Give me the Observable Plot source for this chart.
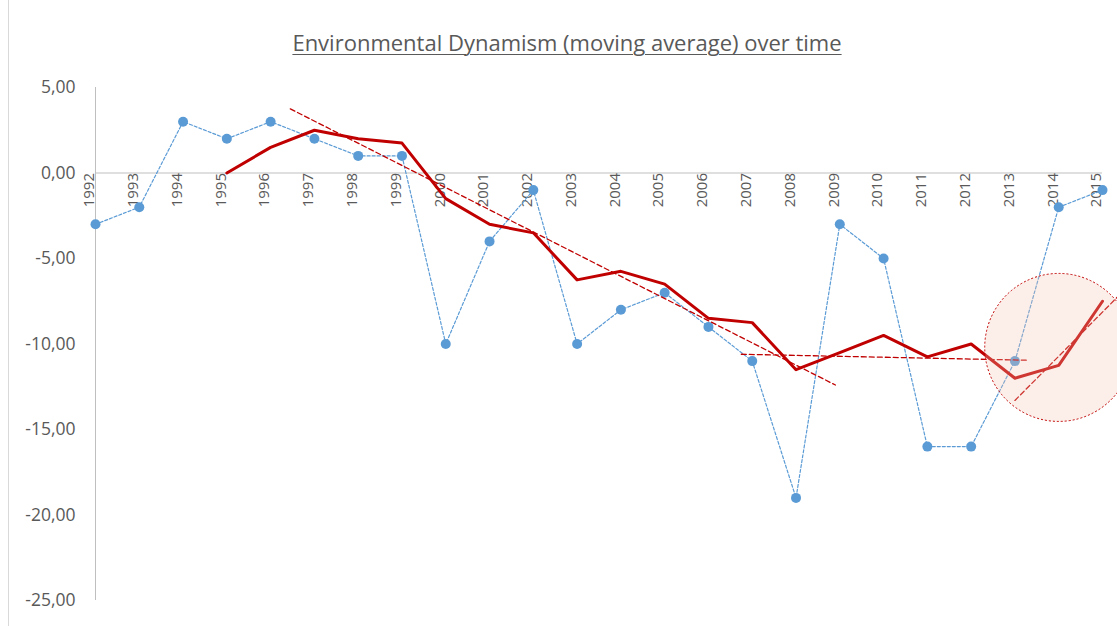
<!DOCTYPE html>
<html>
<head>
<meta charset="utf-8">
<script src="https://cdn.jsdelivr.net/npm/d3@7"></script>
<script src="https://cdn.jsdelivr.net/npm/@observablehq/plot@0.6"></script>
<style>
  html, body { margin: 0; padding: 0; background: #fff; }
  #wrap { position: relative; width: 1117px; height: 626px; overflow: hidden; font-family: "Open Sans", sans-serif; }
  #title { position: absolute; left: 0; width: 1134px; top: 27px; text-align: center; font-size: 22px; line-height: 30px; color: #595959; text-decoration: underline; text-underline-offset: 3px; text-decoration-thickness: 1px; }
  #border { position: absolute; left: 8px; top: 0; width: 1px; height: 626px; background: #d9d9d9; }
  #chart { position: absolute; left: 0; top: 0; }
</style>
</head>
<body>
<div id="wrap">
  <div id="border"></div>
  <div id="chart"></div>
  <div id="title">Environmental Dynamism (moving average) over time</div>
</div>
<script>
const years = [1992,1993,1994,1995,1996,1997,1998,1999,2000,2001,2002,2003,2004,2005,2006,2007,2008,2009,2010,2011,2012,2013,2014,2015];
const dynamism = [-3,-2,3,2,3,2,1,1,-10,-4,-1,-10,-8,-7,-9,-11,-19,-3,-5,-16,-16,-11,-2,-1];
const maYears = [1995,1996,1997,1998,1999,2000,2001,2002,2003,2004,2005,2006,2007,2008,2009,2010,2011,2012,2013,2014,2015];
const movingAvg = [0,1.5,2.5,2,1.75,-1.5,-3,-3.5,-6.25,-5.75,-6.5,-8.5,-8.75,-11.5,-10.5,-9.5,-10.75,-10,-12,-11.25,-7.5];
const trend1X = [1996.45, 2008.9];
const trend1Y = [3.75, -12.4];
const trend2X = [2006.75, 2013.3];
const trend2Y = [-10.6, -10.95];
const trend3X = [2013.0, 2015.4];
const trend3Y = [-13.3, -7.1];
const highlightX = [2014.0];
const highlightY = [-10.2];
const yTicks = [5,0,-5,-10,-15,-20,-25];

const blue = years.map((y,i)=>({year:y, v:dynamism[i]}));
const red = maYears.map((y,i)=>({year:y, v:movingAvg[i]}));
const t1 = trend1X.map((x,i)=>({x, y:trend1Y[i]}));
const t2 = trend2X.map((x,i)=>({x, y:trend2Y[i]}));
const t3 = trend3X.map((x,i)=>({x, y:trend3Y[i]}));
const hl = highlightX.map((x,i)=>({x, y:highlightY[i]}));

const grey = "#595959";
const chart = Plot.plot({
  width: 1117,
  height: 626,
  marginLeft: 95,
  marginRight: 15,
  marginTop: 87,
  marginBottom: 26,
  style: {fontFamily: "Open Sans, sans-serif", background: "transparent", overflow: "visible"},
  x: {domain: [1992, 2015], axis: null},
  y: {domain: [-25, 5]},
  marks: [
    Plot.ruleX([1992], {stroke: "#bfbfbf", strokeWidth: 1}),
    Plot.ruleY([0], {stroke: "#bfbfbf", strokeWidth: 1}),
    Plot.axisY({ticks: yTicks, tickSize: 0, tickPadding: 20, fontSize: 17.5, fill: grey,
      tickFormat: d => d3.format(".2f")(d).replace("−","-").replace(".", ",")}),
    Plot.text(years, {x: d => d, y: 0, text: d => String(d), rotate: -90, textAnchor: "end", dx: -6, fontSize: 15, fill: grey}),
    Plot.line(blue, {x: "year", y: "v", stroke: "#5b9bd5", strokeWidth: 1.2, strokeDasharray: "3,2"}),
    Plot.dot(blue, {x: "year", y: "v", r: 5, fill: "#5b9bd5"}),
    Plot.line(t1, {x: "x", y: "y", stroke: "#c00000", strokeWidth: 1.3, strokeDasharray: "5,3"}),
    Plot.line(t2, {x: "x", y: "y", stroke: "#c00000", strokeWidth: 1.3, strokeDasharray: "5,3"}),
    Plot.line(t3, {x: "x", y: "y", stroke: "#c00000", strokeWidth: 1.3, strokeDasharray: "5,3"}),
    Plot.line(red, {x: "year", y: "v", stroke: "#c00000", strokeWidth: 3}),
    Plot.dot(hl, {x: "x", y: "y", r: 74, fill: "#f4c7b5", fillOpacity: 0.28, stroke: "#c00000", strokeWidth: 1, strokeDasharray: "2,2"})
  ]
});
document.getElementById("chart").appendChild(chart);
</script>
</body>
</html>
